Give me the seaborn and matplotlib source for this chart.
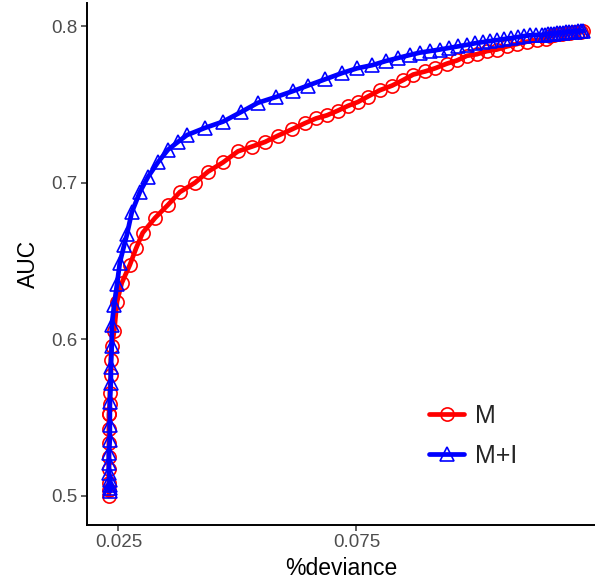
import matplotlib
matplotlib.use("Agg")
import matplotlib.pyplot as plt
import seaborn as sns
import pandas as pd

# %deviance / AUC along the two paths
m_dev = [0.0230, 0.0230, 0.0230, 0.0230, 0.0230, 0.0230, 0.0230, 0.0230, 0.0230,
         0.0232, 0.0232, 0.0234, 0.0234, 0.0236, 0.0241, 0.0247, 0.0257, 0.0274,
         0.0287, 0.0301, 0.0327, 0.0354, 0.0379, 0.0411, 0.0438, 0.0470, 0.0501,
         0.0530, 0.0558, 0.0585, 0.0614, 0.0642, 0.0665, 0.0688, 0.0711, 0.0732,
         0.0753, 0.0774, 0.0799, 0.0825, 0.0848, 0.0869, 0.0894, 0.0915, 0.0940,
         0.0961, 0.0982, 0.1003, 0.1024, 0.1045, 0.1066, 0.1087, 0.1108, 0.1129,
         0.1148, 0.1157, 0.1165, 0.1173, 0.1182, 0.1190, 0.1198, 0.1207, 0.1215,
         0.1222, 0.1226]
m_auc = [0.500, 0.504, 0.508, 0.517, 0.525, 0.534, 0.543, 0.552, 0.552,
         0.559, 0.566, 0.577, 0.587, 0.596, 0.605, 0.624, 0.636, 0.6475,
         0.658, 0.668, 0.6775, 0.6858, 0.694, 0.700, 0.707, 0.713, 0.720,
         0.723, 0.726, 0.730, 0.734, 0.738, 0.741, 0.743, 0.746, 0.749,
         0.7515, 0.755, 0.759, 0.762, 0.7655, 0.769, 0.771, 0.773, 0.776,
         0.778, 0.781, 0.782, 0.784, 0.785, 0.787, 0.7885, 0.790, 0.791,
         0.792, 0.7938, 0.7943, 0.7947, 0.7951, 0.7954, 0.7957, 0.796, 0.7962,
         0.7965, 0.7967]

mi_dev = [0.0232, 0.0232, 0.0232, 0.0232, 0.0230, 0.0230, 0.0230, 0.0232, 0.0232,
          0.0232, 0.0234, 0.0234, 0.0236, 0.0236, 0.0241, 0.0247, 0.0253, 0.0262,
          0.0268, 0.0278, 0.0295, 0.0312, 0.0333, 0.0354, 0.0375, 0.0394, 0.0432,
          0.0470, 0.0507, 0.0543, 0.0581, 0.0617, 0.0648, 0.0684, 0.0720, 0.0751,
          0.0783, 0.0812, 0.0837, 0.0862, 0.0883, 0.0904, 0.0925, 0.0944, 0.0963,
          0.0982, 0.0999, 0.1016, 0.1030, 0.1045, 0.1060, 0.1075, 0.1089, 0.1102,
          0.1114, 0.1127, 0.1140, 0.1146, 0.1152, 0.1159, 0.1165, 0.1171, 0.1177,
          0.1184, 0.1190, 0.1196, 0.1203, 0.1209, 0.1215, 0.1222, 0.1226]
mi_auc = [0.503, 0.505, 0.507, 0.510, 0.5147, 0.521, 0.5275, 0.536, 0.545,
          0.560, 0.572, 0.582, 0.596, 0.609, 0.622, 0.635, 0.649, 0.660,
          0.667, 0.681, 0.694, 0.7036, 0.713, 0.721, 0.726, 0.7304, 0.735,
          0.739, 0.745, 0.751, 0.7547, 0.7585, 0.762, 0.766, 0.770, 0.773,
          0.775, 0.7777, 0.7796, 0.7815, 0.783, 0.784, 0.785, 0.786, 0.787,
          0.788, 0.789, 0.7898, 0.7904, 0.791, 0.7917, 0.7923, 0.793, 0.7936,
          0.7941, 0.7943, 0.7944, 0.7945, 0.7947, 0.7949, 0.7951, 0.7953, 0.7955,
          0.7957, 0.7959, 0.7961, 0.7963, 0.7965, 0.7966, 0.7968, 0.7969]

x_ticks = [0.025, 0.075]
y_ticks = [0.5, 0.6, 0.7, 0.8]

df = pd.concat([
    pd.DataFrame({'dev': m_dev, 'auc': m_auc, 'model': 'M'}),
    pd.DataFrame({'dev': mi_dev, 'auc': mi_auc, 'model': 'M+I'}),
], ignore_index=True)

sns.set_style('ticks')
plt.rcParams['font.family'] = ['Liberation Sans', 'DejaVu Sans']

fig = plt.figure(figsize=(5.95, 5.84), dpi=100)
ax = fig.add_axes([87 / 595, 59.4 / 584, 508 / 595, 521.6 / 584])

styles = {'M': ('#FF0000', 'o'), 'M+I': ('#0000FF', '^')}
for name, (col, mk) in styles.items():
    sns.lineplot(data=df[df['model'] == name], x='dev', y='auc',
                 sort=False, estimator=None, ax=ax, color=col,
                 linewidth=3.4, marker=mk, markersize=9.5,
                 mfc='none', mec=col, mew=1.2, label=name, legend=False)

ax.set_xlim(0.0184, 0.1251)
ax.set_ylim(0.4817, 0.8147)
ax.set_xticks(x_ticks)
ax.set_xticklabels(['0.025', '0.075'])
ax.set_yticks(y_ticks)
ax.set_yticklabels(['0.5', '0.6', '0.7', '0.8'])

sns.despine(ax=ax)
for s in ['left', 'bottom']:
    ax.spines[s].set_linewidth(1.4)
    ax.spines[s].set_color('black')
ax.tick_params(axis='both', length=4, width=1.1, color='#333333',
               labelcolor='#4D4D4D', labelsize=13.5, pad=3)

ax.set_xlabel('%deviance', fontsize=16.5, color='black', labelpad=4)
ax.set_ylabel('AUC', fontsize=16.5, color='black', labelpad=8)

ax.legend(loc='center left', bbox_to_anchor=(429 / 595, (584 - 436) / 584),
          bbox_transform=fig.transFigure, frameon=False, fontsize=18,
          borderpad=0, borderaxespad=0, handlelength=1.4,
          handletextpad=0.45, labelspacing=0.65)

fig.savefig('out.png', dpi=100)
